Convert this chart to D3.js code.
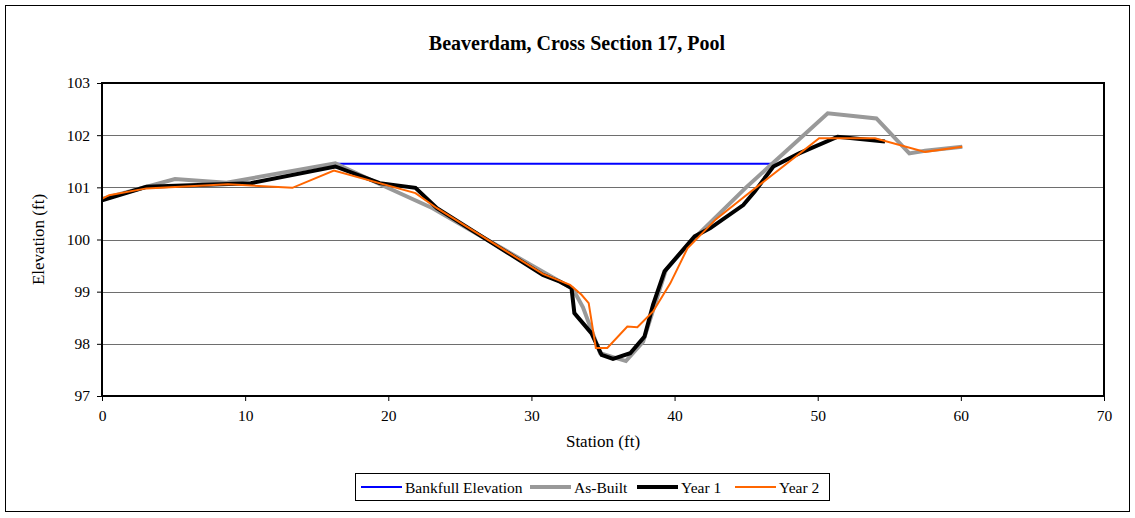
<!DOCTYPE html>
<html>
<head>
<meta charset="utf-8">
<script src="https://cdn.jsdelivr.net/npm/d3@7"></script>
<style>
  html, body { margin: 0; padding: 0; background: #fff; }
  svg text { font-family: "Liberation Serif", "Times New Roman", serif; fill: #000; }
</style>
</head>
<body>
<svg id="chart" width="1135" height="518"></svg>
<script>
const title = "Beaverdam, Cross Section 17, Pool";
const xTicks = [0, 10, 20, 30, 40, 50, 60, 70];
const yTicks = [97, 98, 99, 100, 101, 102, 103];

const bankfullStation = [16.3, 46.9];
const bankfullElev = [101.45, 101.45];

const asBuiltStation = [0, 5.1, 8.7, 16.3, 19.5, 23.1, 27.0, 30.8, 32.9, 33.6, 34.8, 36.6, 37.8, 39.4, 41.1, 45.0, 50.7, 54.1, 56.4, 57.5, 60.1];
const asBuiltElev    = [100.78, 101.16, 101.09, 101.46, 101.05, 100.6, 99.98, 99.38, 99.05, 98.7, 97.82, 97.67, 98.04, 99.42, 99.95, 101.0, 102.42, 102.32, 101.65, 101.7, 101.78];

const year1Station = [0, 3.1, 10.4, 16.3, 19.4, 21.9, 23.4, 30.8, 32.0, 32.8, 33.0, 34.2, 34.9, 35.7, 36.9, 37.9, 38.5, 39.3, 41.4, 42.5, 44.8, 45.6, 46.9, 48.7, 51.4, 54.7];
const year1Elev    = [100.75, 101.01, 101.08, 101.40, 101.08, 100.99, 100.6, 99.32, 99.19, 99.07, 98.59, 98.2, 97.79, 97.71, 97.82, 98.14, 98.75, 99.39, 100.06, 100.22, 100.66, 100.92, 101.40, 101.65, 101.97, 101.88];

const year2Station = [0, 0.5, 3.1, 8.8, 13.3, 16.2, 21.9, 23.4, 30.8, 32.7, 33.5, 34.0, 34.5, 35.3, 36.7, 37.4, 38.5, 39.7, 40.9, 42.9, 45.2, 50.1, 54.0, 57.5, 60.1];
const year2Elev    = [100.78, 100.85, 100.98, 101.06, 100.99, 101.32, 100.89, 100.6, 99.34, 99.13, 98.94, 98.78, 97.92, 97.92, 98.33, 98.32, 98.62, 99.16, 99.83, 100.39, 100.89, 101.94, 101.94, 101.68, 101.78];

const series = [
  { name: "Bankfull Elevation", xs: bankfullStation, ys: bankfullElev, color: "#0000FF", width: 2 },
  { name: "As-Built", xs: asBuiltStation, ys: asBuiltElev, color: "#999999", width: 4 },
  { name: "Year 1", xs: year1Station, ys: year1Elev, color: "#000000", width: 4 },
  { name: "Year 2", xs: year2Station, ys: year2Elev, color: "#FF6600", width: 2 }
];

const FONT = '"Liberation Serif", "Times New Roman", serif';
const svg = d3.select("#chart");

// outer frame
svg.append("rect").attr("x", 5.5).attr("y", 5.5).attr("width", 1124).attr("height", 506)
  .attr("fill", "#fff").attr("stroke", "#000").attr("stroke-width", 1);

const pLeft = 102, pRight = 1104, pTop = 83, pBottom = 396;
const x = d3.scaleLinear().domain([0, 70]).range([pLeft, pRight]);
const y = d3.scaleLinear().domain([97, 103]).range([pBottom, pTop]);

// title
svg.append("text").attr("x", 577).attr("y", 50).attr("text-anchor", "middle")
  .style("font-family", FONT).style("font-size", "20px").style("font-weight", "bold").text(title);

// gridlines
svg.append("g").selectAll("line").data(yTicks.filter(d => d > 97 && d < 103)).join("line")
  .attr("x1", pLeft).attr("x2", pRight)
  .attr("y1", d => Math.round(y(d)) + 0.5).attr("y2", d => Math.round(y(d)) + 0.5)
  .attr("stroke", "#6e6e6e").attr("stroke-width", 1);

// axes
const xAxis = d3.axisBottom(x).tickValues(xTicks).tickSize(5).tickPadding(9).tickFormat(d3.format("d"));
const yAxis = d3.axisLeft(y).tickValues(yTicks).tickSize(5).tickPadding(7).tickFormat(d3.format("d"));

const gx = svg.append("g").attr("transform", `translate(0,${pBottom})`).call(xAxis);
const gy = svg.append("g").attr("transform", `translate(${pLeft},0)`).call(yAxis);
[gx, gy].forEach(g => {
  g.attr("font-family", null).attr("font-size", null);
  g.select(".domain").remove();
  g.selectAll(".tick line").attr("stroke", "#000").attr("stroke-width", 1);
  g.selectAll(".tick text").style("font-family", FONT).style("font-size", "15.5px").attr("fill", "#000");
});

// lines
const line = d3.line().x(d => x(d[0])).y(d => y(d[1]));
series.forEach(s => {
  const pts = s.xs.map((v, i) => [v, s.ys[i]]);
  svg.append("path").datum(pts).attr("d", line)
    .attr("fill", "none").attr("stroke", s.color).attr("stroke-width", s.width)
    .attr("stroke-linejoin", "miter").attr("stroke-linecap", "butt");
});

// plot border
svg.append("rect").attr("x", pLeft).attr("y", pTop).attr("width", pRight - pLeft).attr("height", pBottom - pTop)
  .attr("fill", "none").attr("stroke", "#000").attr("stroke-width", 2);

// axis titles
svg.append("text").attr("x", (pLeft + pRight) / 2).attr("y", 447).attr("text-anchor", "middle")
  .style("font-family", FONT).style("font-size", "17px").text("Station (ft)");
svg.append("text").attr("transform", `translate(44,${(pTop + pBottom) / 2}) rotate(-90)`)
  .attr("text-anchor", "middle").style("font-family", FONT).style("font-size", "17px").text("Elevation (ft)");

// legend
const lg = svg.append("g");
lg.append("rect").attr("x", 355.5).attr("y", 473.5).attr("width", 474).attr("height", 27)
  .attr("fill", "#fff").attr("stroke", "#000").attr("stroke-width", 1);
const legendPos = [361, 530, 637, 735];
series.forEach((s, i) => {
  const lx = legendPos[i];
  lg.append("line").attr("x1", lx).attr("x2", lx + 41).attr("y1", 487).attr("y2", 487)
    .attr("stroke", s.color).attr("stroke-width", s.width);
  lg.append("text").attr("x", lx + 44).attr("y", 492.5)
    .style("font-family", FONT).style("font-size", "15.5px").text(s.name);
});
</script>
</body>
</html>
